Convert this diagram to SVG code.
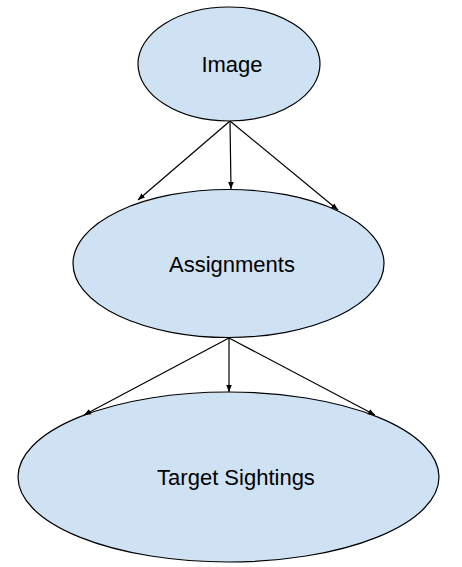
<svg xmlns="http://www.w3.org/2000/svg" width="462" height="567" viewBox="0 0 462 567">
<style>
.node{fill:#cfe2f3;stroke:#000;stroke-width:1.2}
.lbl{font-family:"Liberation Sans",Arial,sans-serif;font-size:22px;fill:#000;text-anchor:middle}
.edge{stroke:#000;stroke-width:1.2;fill:none;marker-end:url(#ah)}
</style>
<defs>
<marker id="ah" viewBox="0 0 10 10" refX="10" refY="5" markerWidth="7" markerHeight="7" markerUnits="userSpaceOnUse" orient="auto">
<path d="M0,1 L10,5 L0,9 z" fill="#000"/>
</marker>
</defs>
<rect width="462" height="567" fill="#fff"/>
<g id="node-image">
<ellipse class="node" cx="229" cy="64" rx="91" ry="57"/>
<text class="lbl" x="232" y="72">Image</text>
</g>
<g id="node-assignments">
<ellipse class="node" cx="228.5" cy="263.5" rx="155.5" ry="74"/>
<text class="lbl" x="232" y="272">Assignments</text>
</g>
<g id="node-target-sightings">
<ellipse class="node" cx="228.5" cy="477" rx="210.5" ry="85"/>
<text class="lbl" x="236" y="485">Target Sightings</text>
</g>
<g id="connectors">
<line class="edge" x1="230" y1="121" x2="138" y2="200"/>
<line class="edge" x1="230" y1="121" x2="231" y2="189"/>
<line class="edge" x1="230" y1="121" x2="338" y2="210"/>
<line class="edge" x1="229" y1="338" x2="84" y2="415"/>
<line class="edge" x1="229" y1="338" x2="229" y2="392"/>
<line class="edge" x1="229" y1="338" x2="375" y2="415"/>
</g>
</svg>
